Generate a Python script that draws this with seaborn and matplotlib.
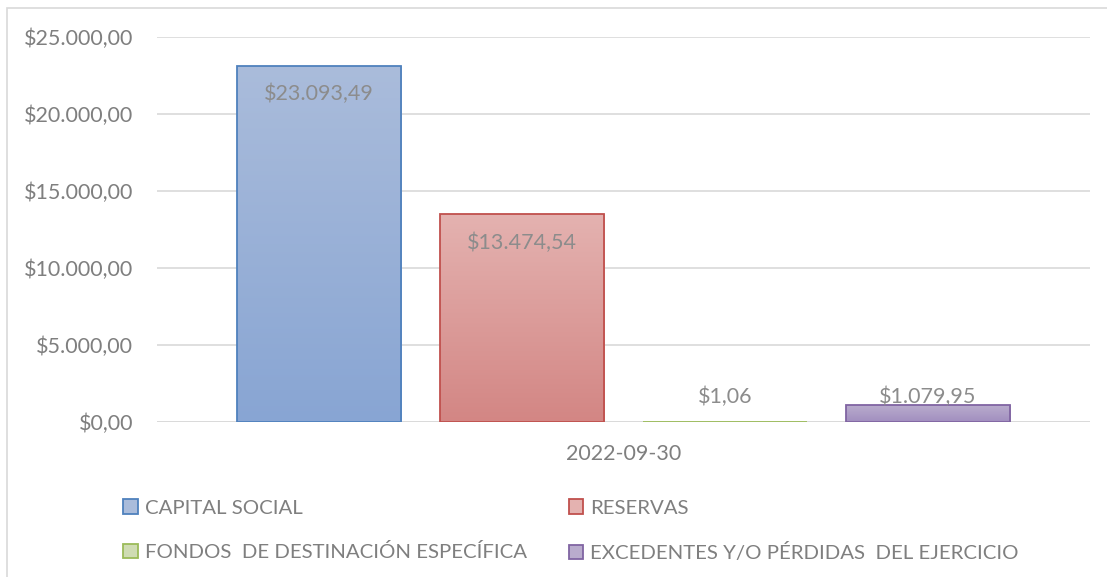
"""Bar chart of patrimonio components at 2022-09-30, Excel-style."""
import matplotlib
matplotlib.use("Agg")
import matplotlib.pyplot as plt
import matplotlib.patches as mpatches
import numpy as np
import pandas as pd
import seaborn as sns

# Data
fecha = ["2022-09-30"]
series = ["CAPITAL SOCIAL", "RESERVAS", "FONDOS  DE DESTINACIÓN ESPECÍFICA",
          "EXCEDENTES Y/O PÉRDIDAS  DEL EJERCICIO"]
valores = [23093.49, 13474.54, 1.06, 1079.95]
y_ticks = [0, 5000, 10000, 15000, 20000, 25000]

# Colours: edge, gradient top, gradient bottom
edges = ["#4f81bd", "#c0504d", "#9bbb59", "#8064a2"]
tops = ["#aabcdb", "#e4b2b0", "#cfdcb3", "#b9accd"]
bottoms = ["#88a5d3", "#d38684", "#b3cb85", "#a18ebf"]
GRAY = "#7f7f7f"
FS = 15.5

sns.set_style("white")
plt.rcParams["font.family"] = ["Lato", "DejaVu Sans"]

df = pd.DataFrame({"fecha": fecha * len(series), "serie": series, "valor": valores})


def fmt(v):
    s = f"{v:,.2f}"
    return "$" + s.replace(",", "X").replace(".", ",").replace("X", ".")


fig = plt.figure(figsize=(11.07, 5.77), dpi=100)
ax = fig.add_axes([157 / 1107, 1 - 422 / 577, 933 / 1107, 385 / 577])

sns.barplot(data=df, x="fecha", y="valor", hue="serie", hue_order=series,
            palette=tops, width=0.87, gap=0.19, ax=ax, legend=False,
            edgecolor="none")
ax.set_xlim(-0.5, 0.5)
ax.set_ylim(0, 25000)

# gradient fill clipped to each bar, plus coloured outline
grad = np.linspace(0, 1, 256).reshape(-1, 1)
for patch, top, bot, ec in zip(ax.patches, tops, bottoms, edges):
    x0, y0 = patch.get_x(), patch.get_y()
    w, h = patch.get_width(), patch.get_height()
    cmap = matplotlib.colors.LinearSegmentedColormap.from_list("g", [bot, top])
    im = ax.imshow(grad, cmap=cmap, aspect="auto", origin="lower",
                   extent=(x0, x0 + w, y0, y0 + max(h, 1)), zorder=2)
    im.set_clip_path(patch)
    ax.add_patch(mpatches.Rectangle((x0, y0), w, h, fill=False, edgecolor=ec,
                                    linewidth=1.3, zorder=3))

# data labels
off = 28 / 385 * 25000
floor = 25 / 385 * 25000
for patch, v in zip(ax.patches[:len(valores)], valores):
    cx = patch.get_x() + patch.get_width() / 2
    ax.text(cx, max(v - off, floor), fmt(v), ha="center", va="center",
            fontsize=FS, color="#8c8c8c", zorder=4)

ax.set_yticks(y_ticks)
ax.set_yticklabels([fmt(t) for t in y_ticks])
ax.tick_params(axis="both", length=0, labelsize=FS, colors=GRAY)
ax.tick_params(axis="y", pad=17)
ax.tick_params(axis="x", pad=16)
ax.set_xlabel("")
ax.set_ylabel("")
ax.yaxis.grid(True, color="#d9d9d9", linewidth=1.2)
ax.set_axisbelow(True)
for s in ax.spines.values():
    s.set_visible(False)
ax.axhline(0, color="#d9d9d9", linewidth=1.2, zorder=1)

# legend below, 2 columns, filled row by row
handles = [mpatches.Patch(facecolor=t, edgecolor=e, linewidth=1.3)
           for t, e in zip(tops, edges)]
order = [0, 2, 1, 3]
fig.legend([handles[i] for i in order], [series[i] for i in order],
           loc="upper left", ncol=2, frameon=False,
           bbox_to_anchor=(105 / 1107, 1 - 481 / 577), fontsize=14.7,
           labelcolor=GRAY, handlelength=0.7, handleheight=0.7,
           handletextpad=0.35, columnspacing=2.05, labelspacing=1.3)

# outer chart border
fig.patches.append(mpatches.Rectangle((7 / 1107, -0.05), 1.1, 1.05 - 8 / 577,
                                      transform=fig.transFigure, fill=False,
                                      edgecolor="#d9d9d9", linewidth=1.2))

fig.savefig("out.png", dpi=100)
